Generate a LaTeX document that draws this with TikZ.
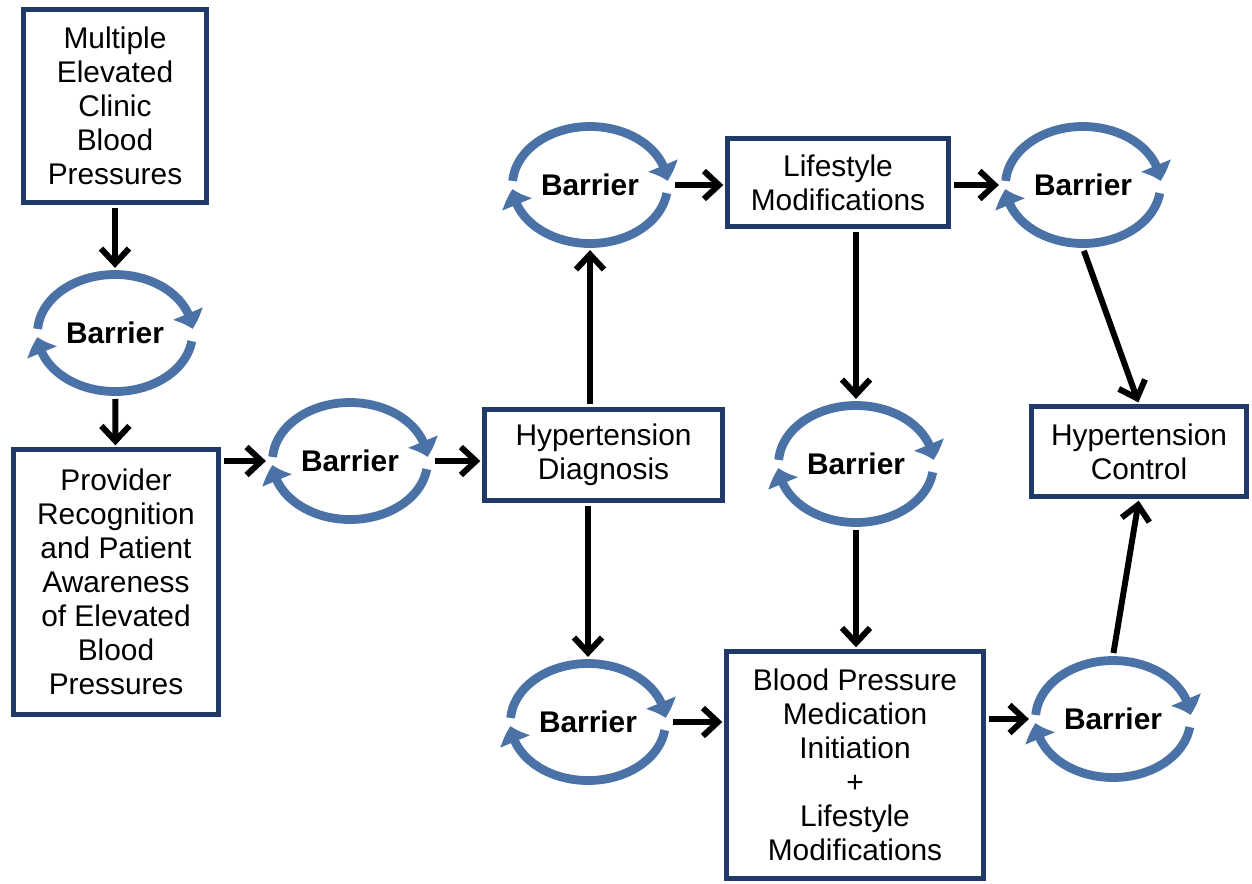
\documentclass[tikz,border=0pt]{standalone}
\usepackage{fontspec}
\setmainfont{Liberation Sans}
\usetikzlibrary{arrows.meta, bending, positioning, shapes.geometric, calc}
\definecolor{BoxNavy}{HTML}{1F3A68}
\definecolor{BarBlue}{HTML}{4A72A6}

\begin{document}
\begin{tikzpicture}[
    box/.style={draw=BoxNavy, line width=2.8pt, fill=white, align=center, inner sep=2pt,
        font=\fontsize{17}{19.4}\selectfont},
    barrier/.style={ellipse, minimum width=3.28cm, minimum height=2.52cm, inner sep=0pt,
        font=\fontsize{17}{19.4}\selectfont\bfseries},
    barc/.style={BarBlue, line width=5pt, -{Triangle[width=0.62cm, length=0.32cm, bend]}},
    flow/.style={black, line width=3.4pt, -{Straight Barb[length=0.3cm, width=0.56cm]},
        shorten <=1.5pt, shorten >=1pt}
]
    % Frame
    \useasboundingbox (0,0) rectangle (25.04,-17.66);

    % --- Boxes ---
    \node[box, minimum width=3.66cm, minimum height=3.86cm] (clinic) at (2.30,-2.12)
        {Multiple\\Elevated\\Clinic\\Blood\\Pressures};
    \node[box, minimum width=4.10cm, minimum height=5.30cm] (aware) at (2.32,-11.64)
        {Provider\\Recognition\\and Patient\\Awareness\\of Elevated\\Blood\\Pressures};
    \node[box, minimum width=4.76cm, minimum height=1.82cm] (diag) at (12.07,-9.10)
        {Hypertension\\Diagnosis};
    \node[box, minimum width=4.42cm, minimum height=1.76cm] (life) at (16.76,-3.65)
        {Lifestyle\\Modifications};
    \node[box, minimum width=4.30cm, minimum height=1.80cm] (control) at (22.78,-9.03)
        {Hypertension\\Control};
    \node[box, minimum width=5.14cm, minimum height=4.54cm] (meds) at (17.10,-15.30)
        {Blood Pressure\\Medication\\Initiation\\+\\Lifestyle\\Modifications};

    % --- Barriers ---
    \node[barrier] (bClinic) at (2.30,-6.66) {Barrier};
    \node[barrier] (bAware) at (7.00,-9.22) {Barrier};
    \node[barrier] (bLifeIn) at (11.80,-3.70) {Barrier};
    \node[barrier] (bMedsIn) at (11.76,-14.44) {Barrier};
    \node[barrier] (bLifeOut) at (21.66,-3.70) {Barrier};
    \node[barrier] (bAdd) at (17.12,-9.28) {Barrier};
    \node[barrier] (bMedsOut) at (22.26,-14.38) {Barrier};

    % circular arrows round each barrier
    \foreach \b in {bClinic,bAware,bLifeIn,bMedsIn,bLifeOut,bAdd,bMedsOut} {
        \draw[barc] (\b.center) ++(176:1.55cm and 1.17cm)
            arc[start angle=176, end angle=4, x radius=1.55cm, y radius=1.17cm];
        \draw[barc] (\b.center) ++(-8:1.55cm and 1.17cm)
            arc[start angle=-8, end angle=-176, x radius=1.55cm, y radius=1.17cm];
    }

    % --- Flow ---
    \draw[flow] (clinic) -- (bClinic);
    \draw[flow] (bClinic) -- (aware);
    \draw[flow] (aware.east |- bAware) -- (bAware);
    \draw[flow] (bAware) -- (diag.west |- bAware);
    \draw[flow] (diag.north -| bLifeIn) -- (bLifeIn);
    \draw[flow] (diag.south -| bMedsIn) -- (bMedsIn);
    \draw[flow] (bLifeIn) -- (life.west |- bLifeIn);
    \draw[flow] (life.east |- bLifeOut) -- (bLifeOut);
    \draw[flow] (life.south -| bAdd) -- (bAdd);
    \draw[flow] (bAdd) -- (meds.north -| bAdd);
    \draw[flow] (bMedsIn) -- (meds.west |- bMedsIn);
    \draw[flow] (meds.east |- bMedsOut) -- (bMedsOut);
    \draw[flow] (bLifeOut.south) -- (control.north);
    \draw[flow] (bMedsOut.north) -- (control.south);

\end{tikzpicture}
\end{document}
